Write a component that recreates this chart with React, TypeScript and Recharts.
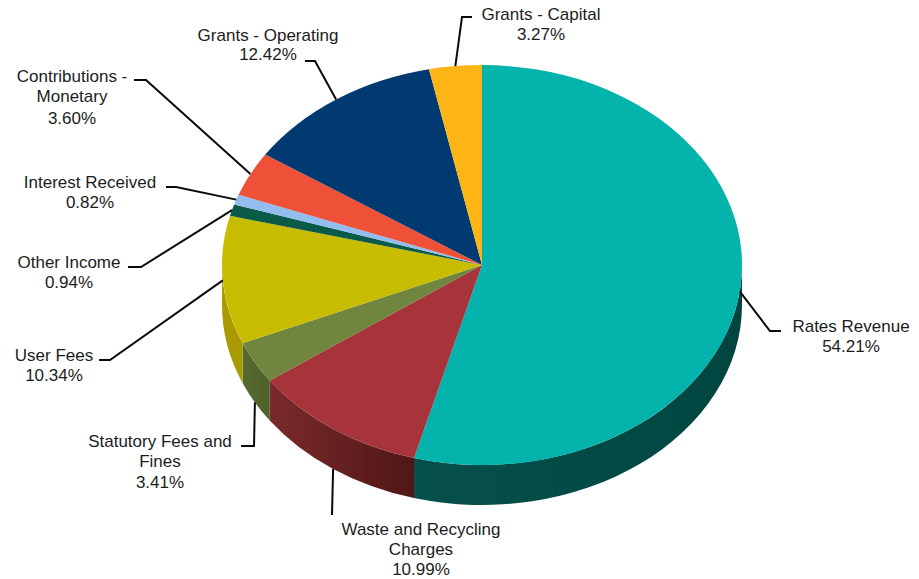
import React from "react";
import { PieChart, Pie } from "recharts";

// Income categories, clockwise from twelve o'clock
const categories = [
  "Rates Revenue",
  "Waste and Recycling Charges",
  "Statutory Fees and Fines",
  "User Fees",
  "Other Income",
  "Interest Received",
  "Contributions - Monetary",
  "Grants - Operating",
  "Grants - Capital",
];
const shares = [54.21, 10.99, 3.41, 10.34, 0.94, 0.82, 3.6, 12.42, 3.27];

const topColors = ["#03b3ac", "#a6343a", "#70863f", "#c8bc00", "#0a5a48", "#93bdee", "#ee5138", "#003a70", "#fdb515"];
const wallLeft = ["#06504c", "#7a2a2c", "#566a30", "#a89a00", "#06402f", "#7095bd", "#b83c2a", "#002a50", "#c48d10"];
const wallRight = ["#004540", "#501615", "#4f6029", "#a89a00", "#06402f", "#7095bd", "#b83c2a", "#002a50", "#c48d10"];

// Label text broken into rows, with the anchor of each block
const labelRows = [
  ["Rates Revenue", "54.21%"],
  ["Waste and Recycling", "Charges", "10.99%"],
  ["Statutory Fees and", "Fines", "3.41%"],
  ["User Fees", "10.34%"],
  ["Other Income", "0.94%"],
  ["Interest Received", "0.82%"],
  ["Contributions -", "Monetary", "3.60%"],
  ["Grants - Operating", "12.42%"],
  ["Grants - Capital", "3.27%"],
];
const labelX = [851, 421, 160, 54, 69, 90, 72, 268, 541];
const labelBaselines = [
  [332, 352],
  [535, 555, 575],
  [447, 467, 488],
  [361, 381],
  [268, 288],
  [188, 208],
  [82, 102, 124],
  [41, 60],
  [20, 40],
];
// Leader line bends running from the rim out to the label
const leaderBends = [
  [[770, 331], [781, 331]],
  [[332, 515]],
  [[254, 446], [241, 446]],
  [[110, 360], [99, 360]],
  [[141, 267], [128, 267]],
  [[176, 187], [166, 187]],
  [[146, 80], [134, 80]],
  [[315, 61], [305, 61]],
  [[462, 17], [472, 17]],
];

const rows = categories.map((name, i) => ({ name, value: shares[i], fill: topColors[i], index: i }));

const CX = 482;
const CY = 265;
const RX = 260;
const RY = 200;
const DEPTH = 40;

const rimPoint = (deg: number, dy = 0) => {
  const a = (deg * Math.PI) / 180;
  return [CX + RX * Math.cos(a), CY - RY * Math.sin(a) + dy];
};

// Upper face of a slice: the sector squashed into an ellipse
const TopFace = (props: any) => {
  const { startAngle, endAngle, fill } = props;
  const [x0, y0] = rimPoint(startAngle);
  const [x1, y1] = rimPoint(endAngle);
  const large = startAngle - endAngle > 180 ? 1 : 0;
  return <path d={`M${CX},${CY}L${x0},${y0}A${RX},${RY} 0 ${large} 1 ${x1},${y1}Z`} fill={fill} stroke="none" />;
};

// Front wall of a slice: only the part of its rim that faces the viewer
const SideWall = (props: any) => {
  const { startAngle, endAngle, index } = props;
  const from = Math.min(startAngle, 0);
  const to = Math.max(endAngle, -180);
  if (from <= to) return <g />;
  const [x0, y0] = rimPoint(from);
  const [x1, y1] = rimPoint(to);
  const id = `wall-${index}`;
  return (
    <g>
      <linearGradient id={id} x1="0" y1="0" x2="1" y2="0">
        <stop offset="0" stopColor={wallLeft[index]} />
        <stop offset="1" stopColor={wallRight[index]} />
      </linearGradient>
      <path
        d={`M${x0},${y0}A${RX},${RY} 0 0 1 ${x1},${y1}L${x1},${y1 + DEPTH}A${RX},${RY} 0 0 0 ${x0},${y0 + DEPTH}Z`}
        fill={`url(#${id})`}
        stroke="none"
      />
    </g>
  );
};

const SliceLabel = (props: any) => {
  const { index, midAngle } = props;
  const a = (midAngle * Math.PI) / 180;
  // Leaders of the front slices come out from under the wall
  const dy = Math.sin(a) < -0.3 ? DEPTH : 0;
  const [sx, sy] = rimPoint(midAngle, dy);
  const pts = [[sx, sy], ...leaderBends[index]].map((p) => p.join(",")).join(" ");
  return (
    <g>
      <polyline points={pts} fill="none" stroke="#0a0a0a" strokeWidth={2} />
      {labelRows[index].map((row, r) => (
        <text
          key={row}
          x={labelX[index]}
          y={labelBaselines[index][r]}
          textAnchor="middle"
          fontFamily="Liberation Sans"
          fontSize={17}
          fill="#1c1c1c"
        >
          {row}
        </text>
      ))}
    </g>
  );
};

export default function App() {
  return (
    <div style={{ position: "absolute", left: 0, top: 0, width: 919, height: 579, background: "#fff" }}>
      <PieChart width={919} height={579} margin={{ top: 0, right: 0, bottom: 0, left: 0 }}>
        <Pie
          data={rows}
          dataKey="value"
          nameKey="name"
          cx={CX}
          cy={CY}
          innerRadius={0}
          outerRadius={RX}
          startAngle={90}
          endAngle={-270}
          stroke="none"
          shape={SideWall}
          isAnimationActive={false}
        />
        <Pie
          data={rows}
          dataKey="value"
          nameKey="name"
          cx={CX}
          cy={CY}
          innerRadius={0}
          outerRadius={RX}
          startAngle={90}
          endAngle={-270}
          stroke="none"
          shape={TopFace}
          label={SliceLabel}
          labelLine={false}
          isAnimationActive={false}
        />
      </PieChart>
    </div>
  );
}
